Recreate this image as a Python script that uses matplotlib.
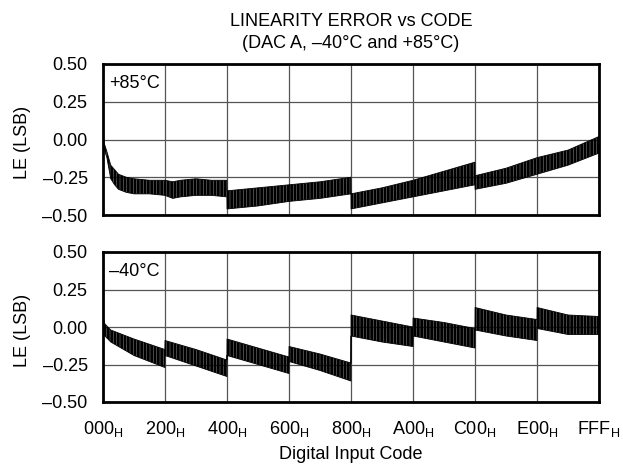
import matplotlib
matplotlib.use("Agg")
import matplotlib.pyplot as plt
import numpy as np

plt.rcParams['font.family'] = ['Liberation Sans', 'DejaVu Sans']
plt.rcParams['mathtext.fontset'] = 'custom'
plt.rcParams['mathtext.rm'] = 'Liberation Sans'
plt.rcParams['hatch.linewidth'] = 2.2

# ---- data ----
# +85°C panel: envelope of the LE trace (upper / lower) at given codes
codes_hot = [0, 8, 32, 64, 96, 128, 192, 256, 384, 512, 576, 640, 768, 896, 1023,
             1024, 1280, 1536, 1792, 2047,
             2048, 2304, 2560, 2816, 3071,
             3072, 3328, 3584, 3840, 4095]
upper_hot = [0.07, -0.02, -0.08, -0.17, -0.20, -0.23, -0.25, -0.26, -0.27, -0.27, -0.28, -0.27, -0.26, -0.27, -0.27,
             -0.34, -0.32, -0.30, -0.28, -0.25,
             -0.36, -0.32, -0.27, -0.21, -0.15,
             -0.24, -0.19, -0.12, -0.07, 0.02]
lower_hot = [-0.02, -0.06, -0.12, -0.26, -0.30, -0.33, -0.35, -0.36, -0.36, -0.37, -0.39, -0.38, -0.37, -0.37, -0.38,
             -0.46, -0.44, -0.41, -0.39, -0.36,
             -0.46, -0.42, -0.38, -0.34, -0.30,
             -0.33, -0.29, -0.23, -0.17, -0.09]

# -40°C panel
codes_cold = [0, 16, 64, 256, 511,
              512, 768, 1023,
              1024, 1280, 1535,
              1536, 1792, 2047,
              2048, 2304, 2559,
              2560, 2816, 3071,
              3072, 3328, 3583,
              3584, 3840, 4095]
upper_cold = [0.07, 0.02, -0.02, -0.08, -0.15,
              -0.09, -0.15, -0.22,
              -0.08, -0.14, -0.20,
              -0.13, -0.18, -0.24,
              0.08, 0.04, 0.00,
              0.06, 0.03, -0.01,
              0.13, 0.08, 0.05,
              0.13, 0.08, 0.07]
lower_cold = [-0.03, -0.06, -0.10, -0.19, -0.27,
              -0.19, -0.26, -0.33,
              -0.19, -0.25, -0.31,
              -0.23, -0.29, -0.36,
              -0.06, -0.10, -0.13,
              -0.06, -0.10, -0.14,
              -0.02, -0.06, -0.09,
              -0.01, -0.05, -0.05]

xtick_pos = [0, 512, 1024, 1536, 2048, 2560, 3072, 3584, 4095]
xtick_txt = ["000", "200", "400", "600", "800", "A00", "C00", "E00", "FFF"]
ytick_pos = [-0.5, -0.25, 0.0, 0.25, 0.5]
ytick_txt = ["–0.50", "–0.25", "0.00", "0.25", "0.50"]

W, H = 623, 466
FS = 13
fig = plt.figure(figsize=(W / 100, H / 100), dpi=100)

def px_axes(x0, y0, x1, y1):
    return fig.add_axes([x0 / W, 1 - y1 / H, (x1 - x0) / W, (y1 - y0) / H])

ax1 = px_axes(103, 64, 599, 215)
ax2 = px_axes(103, 252, 599, 402)

panels = [(ax1, codes_hot, upper_hot, lower_hot, "+85°C"),
          (ax2, codes_cold, upper_cold, lower_cold, "–40°C")]

for ax, cx, up, lo, lab in panels:
    ax.fill_between(cx, lo, up, facecolor="none", edgecolor="black",
                    hatch="|||||", linewidth=0.6, zorder=3)
    ax.set_xlim(0, 4095)
    ax.set_ylim(-0.5, 0.5)
    ax.set_xticks(xtick_pos)
    ax.set_yticks(ytick_pos)
    ax.set_yticklabels(ytick_txt, fontsize=FS)
    ax.grid(True, color="#555555", linewidth=0.9)
    ax.set_axisbelow(True)
    ax.tick_params(axis="y", length=0, pad=11)
    ax.tick_params(axis="x", length=0, pad=12)
    for s in ax.spines.values():
        s.set_linewidth(2.0)
        s.set_color("black")
        s.set_zorder(5)
    ax.text(0.012, 0.838, lab, transform=ax.transAxes, fontsize=FS,
            ha="left", va="baseline", zorder=4)
    ax.set_ylabel("LE (LSB)", fontsize=FS)
    ax.yaxis.set_label_coords(-0.145, 0.48)

ax1.set_xticklabels([])
ax2.set_xticklabels([t + r"$_{\mathregular{H}}$" for t in xtick_txt], fontsize=FS)

fig.text(351 / W, 1 - 459 / H, "Digital Input Code", ha="center", va="baseline", fontsize=FS)
fig.text(351 / W, 1 - 26.5 / H, "LINEARITY ERROR vs CODE", ha="center", va="baseline", fontsize=FS)
fig.text(351 / W, 1 - 48.5 / H, "(DAC A, –40°C and +85°C)", ha="center", va="baseline", fontsize=FS)

fig.savefig("out.png", dpi=100)
